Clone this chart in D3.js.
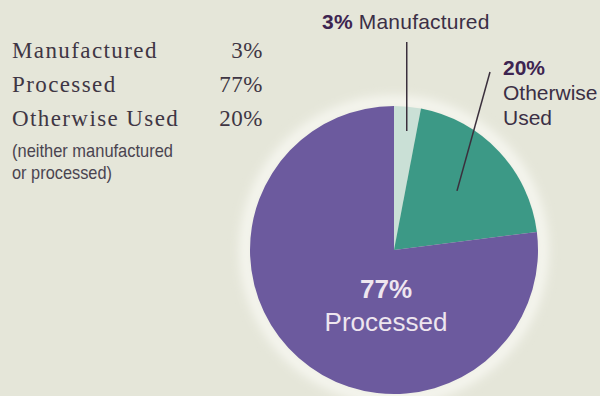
<!DOCTYPE html>
<html lang="en">
  <head>
    <meta charset="utf-8">
    <title>use of production</title>
    <style>
      body { margin: 0; background: #e5e6d9; }
    </style>
  </head>
  <body>

<script src="https://cdn.jsdelivr.net/npm/d3@7/dist/d3.min.js"></script>

<script>

// data
var categories = ["Manufactured", "Processed", "Otherwise Used"];
var values = [3, 77, 20];
var pctLabels = ["3%", "77%", "20%"];
var footnote = ["(neither manufactured", "or processed)"];
// order of slices clockwise from 12 o'clock
var sliceOrder = ["Manufactured", "Otherwise Used", "Processed"];

var colors = {
	"Manufactured": "#cae0d6",
	"Otherwise Used": "#3c9986",
	"Processed": "#6c5a9e"
};

var width = 600, height = 396;

var svg = d3.select("body").append("svg")
            .attr("width", width)
            .attr("height", height)
            .style("display", "block");

svg.append("rect").attr("width", width).attr("height", height).attr("fill", "#e5e6d9");

// soft halo around the pie
var defs = svg.append("defs");
defs.append("filter").attr("id", "halo")
    .attr("x", "-20%").attr("y", "-20%").attr("width", "140%").attr("height", "140%")
  .append("feGaussianBlur").attr("stdDeviation", 6);

// legend on the left
var legendY = d3.scalePoint().domain(categories).range([58, 126]);
var serif = "'Liberation Serif', 'DejaVu Serif', serif";
var sans = "'Liberation Sans', Arial, sans-serif";
var ink = "#3b2f45";

categories.forEach(function(c, i) {
	svg.append("text")
	   .attr("x", 12)
	   .attr("y", legendY(c))
	   .attr("font-family", serif)
	   .attr("font-size", 23)
	   .attr("letter-spacing", 1.4)
	   .attr("fill", "#3f3644")
	   .text(c);
	svg.append("text")
	   .attr("x", 263)
	   .attr("y", legendY(c))
	   .attr("text-anchor", "end")
	   .attr("font-family", serif)
	   .attr("font-size", 23)
	   .attr("letter-spacing", 0.5)
	   .attr("fill", "#3f3644")
	   .text(pctLabels[i]);
});

// condensed footnote, squeezed to the width it has in the print
var footWidth = [161, 100];
footnote.forEach(function(t, i) {
	svg.append("text")
	   .attr("x", 12)
	   .attr("y", 157 + i * 22)
	   .attr("font-family", sans)
	   .attr("font-size", 19)
	   .attr("textLength", footWidth[i])
	   .attr("lengthAdjust", "spacingAndGlyphs")
	   .attr("fill", "#4a4450")
	   .text(t);
});

// pie
var cx = 394, cy = 250, r = 144;
var g = svg.append("g").attr("transform", "translate(" + cx + "," + cy + ")");

var pieData = sliceOrder.map(function(c) {
	return { name: c, value: values[categories.indexOf(c)] };
});

var pie = d3.pie().sort(null).value(function(d) { return d.value; });
var arcs = pie(pieData);
var arc = d3.arc().innerRadius(0).outerRadius(r);

g.append("circle").attr("r", r + 4)
 .attr("fill", "none")
 .attr("stroke", "#fbfbf6")
 .attr("stroke-width", 10)
 .attr("filter", "url(#halo)");

g.selectAll("path.slice")
 .data(arcs)
 .enter().append("path")
 .attr("class", "slice")
 .attr("d", arc)
 .attr("fill", function(d) { return colors[d.data.name]; });

function pointAt(a, rad) {
	var ang = (a.startAngle + a.endAngle) / 2;
	return [rad * Math.sin(ang), -rad * Math.cos(ang)];
}

var byName = {};
arcs.forEach(function(a) { byName[a.data.name] = a; });

// Manufactured: vertical leader up to the label
var pm = pointAt(byName["Manufactured"], 0.83 * r);
g.append("line")
 .attr("x1", pm[0] + 1.5).attr("y1", pm[1])
 .attr("x2", pm[0] + 1.5).attr("y2", 42 - cy)
 .attr("stroke", "#3a2f3c").attr("stroke-width", 1.5);

var topLbl = svg.append("text")
   .attr("x", 322).attr("y", 29)
   .attr("font-family", sans)
   .attr("font-size", 21)
   .attr("letter-spacing", 0.2)
   .attr("fill", ink);
topLbl.append("tspan").attr("font-weight", "bold").attr("fill", "#3d2450").text(pctLabels[0]);
topLbl.append("tspan").text(" " + categories[0]);

// Otherwise Used: slanted leader
var po = pointAt(byName["Otherwise Used"], 0.6 * r);
g.append("line")
 .attr("x1", po[0]).attr("y1", po[1])
 .attr("x2", 490 - cx).attr("y2", 72 - cy)
 .attr("stroke", "#3a2f3c").attr("stroke-width", 1.5);

var rl = svg.append("text")
   .attr("x", 503).attr("y", 75)
   .attr("font-family", sans)
   .attr("font-size", 21)
   .attr("fill", ink);
rl.append("tspan").attr("font-weight", "bold").attr("fill", "#3d2450").text(pctLabels[2]);
rl.append("tspan").attr("x", 503).attr("dy", 25).text("Otherwise");
rl.append("tspan").attr("x", 503).attr("dy", 25).text("Used");

// Processed label inside
var pl = svg.append("text")
   .attr("x", 386).attr("y", 298)
   .attr("text-anchor", "middle")
   .attr("font-family", sans)
   .attr("font-size", 26)
   .attr("fill", "#eee6ef");
pl.append("tspan").attr("font-weight", "bold").text(pctLabels[1]);
pl.append("tspan").attr("x", 386).attr("dy", 33).text(categories[1]);

</script>

  </body>
</html>
